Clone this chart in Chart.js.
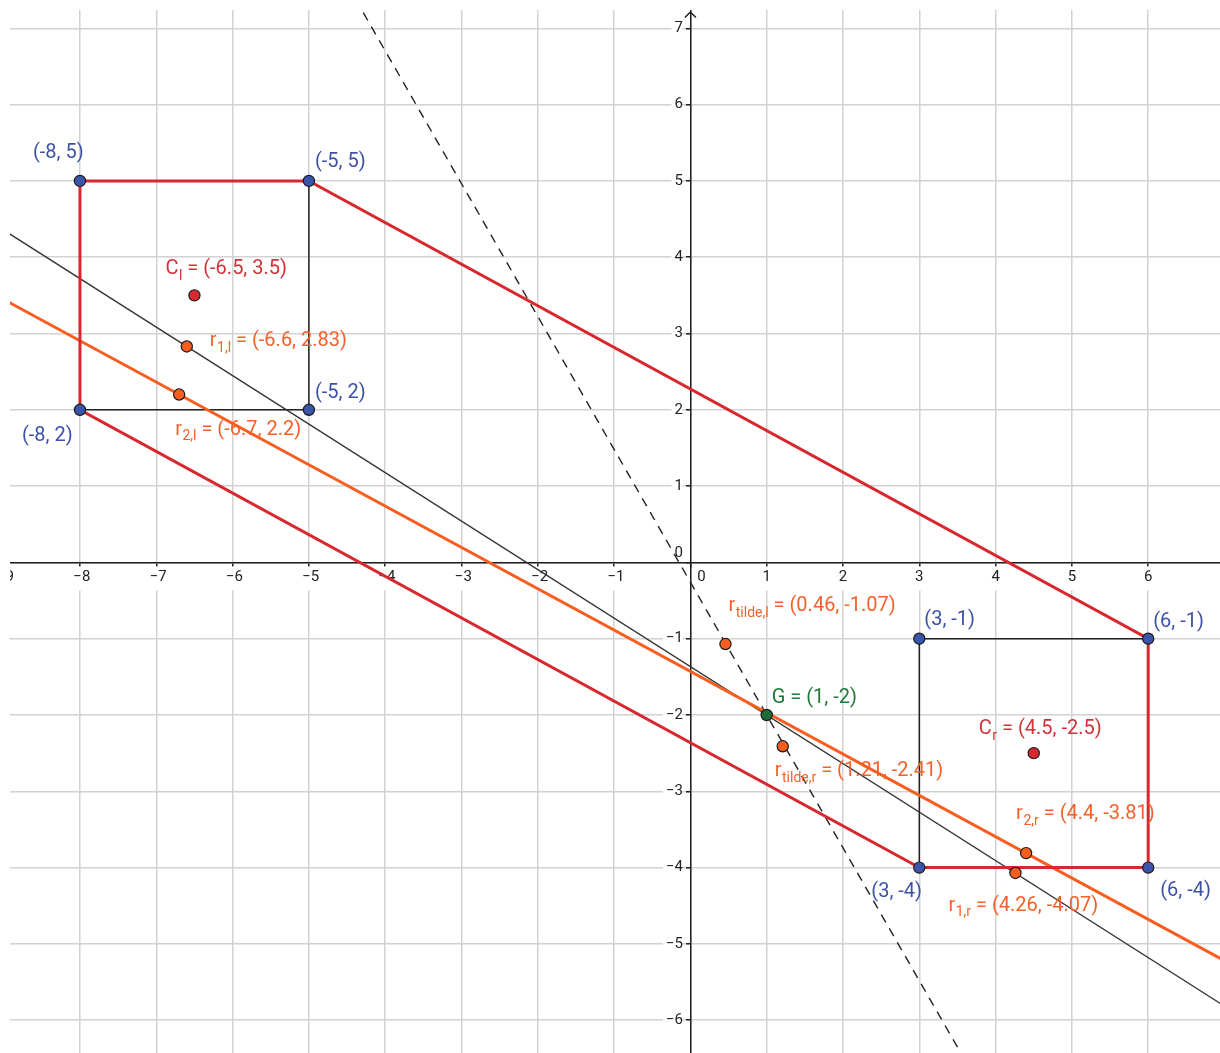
<!DOCTYPE html>
<html>
<head>
<meta charset="utf-8">
<script src="https://cdn.jsdelivr.net/npm/chart.js@4.4.1/dist/chart.umd.min.js"></script>
<style>
html,body{margin:0;padding:0;background:#fff}
</style>
</head>
<body>
<canvas id="c" width="1220" height="1053"></canvas>
<script>
// visible window of the view
const xMin=-8.917, xMax=6.941, yMin=-6.43, yMax=7.24;
const xTicks=[-9,-8,-7,-6,-5,-4,-3,-2,-1,0,1,2,3,4,5,6];
const yTicks=[-6,-5,-4,-3,-2,-1,0,1,2,3,4,5,6,7];

// segments and lines
const hull=[[-8,5],[-5,5],[6,-1],[6,-4],[3,-4],[-8,2],[-8,5]];
const boxL=[[-8,2],[-5,2],[-5,5]];
const boxR=[[6,-1],[3,-1],[3,-4]];
const lineR1=[[-9.5,4.673],[7.5,-6.132]];
const lineR2=[[-9.5,3.717],[7.5,-5.492]];
const lineDash=[[-4.6,7.75],[3.8,-6.875]];

// points
const corners=[[-8,5],[-5,5],[-5,2],[-8,2],[3,-1],[6,-1],[3,-4],[6,-4]];
const centers=[[-6.5,3.5],[4.5,-2.5]];
const centerNames=['C','C'];
const centerSubs=['l','r'];
const rPts=[[-6.6,2.83],[-6.7,2.2],[0.46,-1.07],[1.21,-2.41],[4.4,-3.81],[4.26,-4.07]];
const rNames=['r','r','r','r','r','r'];
const rSubs=['1,l','2,l','tilde,l','tilde,r','2,r','1,r'];
const gPt=[[1,-2]];
const gNames=['G'];
const gSubs=[''];

// label offsets (px from point to label left / middle)
const cornerOff=[[-47,-28],[6,-19],[6,-17],[-58,26],[5,-19],[5,-17],[-48,24],[12,23]];
const centerOff=[[-29,-26],[-55,-24]];
const rOff=[[23,-5],[-4,35],[3,-38],[-8,25],[-10,-39],[-67,33]];
const gOff=[[5,-17]];

const BLUE='#3a55aa', RED='#d8282f', ORANGE='#f75e20', GREEN='#1c6a36';
const BLUE_T='#3d52a6', RED_T='#d33039', ORANGE_T='#f4612a', GREEN_T='#1f7a3a';

const xy=a=>a.map(p=>({x:p[0],y:p[1]}));

function pts(data,color){
return {data:xy(data),showLine:false,pointRadius:5.6,pointHoverRadius:5.6,
pointBackgroundColor:color,pointBorderColor:'#1b1b1b',pointBorderWidth:1.2};
}
function seg(data,color,w,dash){
return {data:xy(data),showLine:true,pointRadius:0,pointHoverRadius:0,
borderColor:color,borderWidth:w,borderDash:dash||[],fill:false,tension:0};
}

const labelGroups=[
{pts:corners,off:cornerOff,color:BLUE_T},
{pts:centers,off:centerOff,color:RED_T,names:centerNames,subs:centerSubs},
{pts:rPts,off:rOff,color:ORANGE_T,names:rNames,subs:rSubs},
{pts:gPt,off:gOff,color:GREEN_T,names:gNames,subs:gSubs}
];

const clipArea={id:'clipArea',
beforeDraw(ch){
const a=ch.chartArea,c=ch.ctx;
c.save();c.beginPath();c.rect(a.left,a.top,a.right-a.left,a.bottom-a.top);c.clip();
},
afterDraw(ch){ch.ctx.restore();}
};

const ptLabels={id:'ptLabels',
afterDatasetsDraw(ch){
const c=ch.ctx,sx=ch.scales.x,sy=ch.scales.y;
const main='20px Roboto',small='14px Roboto';
c.save();
c.textBaseline='middle';c.textAlign='left';
labelGroups.forEach(g=>{
g.pts.forEach((p,i)=>{
let x=sx.getPixelForValue(p[0])+g.off[i][0];
let y=sy.getPixelForValue(p[1])+g.off[i][1];
let coord='('+p[0]+', '+p[1]+')';
c.fillStyle=g.color;
c.font=main;
if(g.names){
c.fillText(g.names[i],x,y);
x+=c.measureText(g.names[i]).width;
if(g.subs[i]){
c.font=small;
c.fillText(g.subs[i],x+0.5,y+7);
x+=c.measureText(g.subs[i]).width+0.5;
c.font=main;
}
c.fillText(' = '+coord,x,y);
}else{
c.fillText(coord,x,y);
}
});
});
// arrow at the top of the y axis
let x0=sx.getPixelForValue(0),t=ch.chartArea.top;
c.strokeStyle='#1e1e1e';c.lineWidth=1.5;
c.beginPath();c.moveTo(x0-5.5,t+7.5);c.lineTo(x0,t+2);c.lineTo(x0+5.5,t+7.5);c.stroke();
c.restore();
}
};

const tickFont={family:'Roboto',size:15};
const minus=v=>v<0?' \u2212'+(-v):String(v);

new Chart(document.getElementById('c'),{
type:'scatter',
data:{datasets:[
pts(gPt,GREEN),
pts(rPts,ORANGE),
pts(centers,RED),
pts(corners,BLUE),
seg(hull,RED,3),
seg(lineR2,ORANGE,3),
seg(lineR1,'#333',1.3),
seg(boxL,'#222',1.5),
seg(boxR,'#222',1.5),
seg(lineDash,'#222',1.4,[9,7])
]},
options:{
responsive:false,animation:false,
layout:{autoPadding:false,padding:{left:10,top:10,right:0,bottom:0}},
plugins:{legend:{display:false},tooltip:{enabled:false}},
events:[],
scales:{
x:{type:'linear',min:xMin,max:xMax,position:{y:0},
afterBuildTicks(s){s.ticks=xTicks.map(v=>({value:v}));},
afterFit(s){s.paddingLeft=0;s.paddingRight=0;},
grid:{color:'#d2d2d2',lineWidth:1.5,drawTicks:true,tickLength:4,tickColor:'#222',tickWidth:1.5},
border:{display:true,color:'#1e1e1e',width:1.5},
ticks:{autoSkip:false,maxRotation:0,padding:2,font:tickFont,color:'#222',
showLabelBackdrop:true,
backdropColor:c=>(c.tick&&c.tick.value===0)?'rgba(255,255,255,0)':'#fff',
backdropPadding:{left:2,right:2,top:2,bottom:4},
callback:v=>v===0?'      0':minus(v)}
},
y:{type:'linear',min:yMin,max:yMax,position:{x:0},
afterBuildTicks(s){s.ticks=yTicks.map(v=>({value:v}));},
afterFit(s){s.paddingTop=0;s.paddingBottom=0;},
grid:{color:'#d2d2d2',lineWidth:1.5,drawTicks:true,tickLength:4,tickColor:'#222',tickWidth:1.5},
border:{display:true,color:'#1e1e1e',width:1.5},
ticks:{autoSkip:false,padding:4,font:tickFont,color:'#222',
showLabelBackdrop:true,
backdropColor:c=>(c.tick&&c.tick.value===0)?'rgba(255,255,255,0)':'#fff',
backdropPadding:{left:3,right:-8,top:2,bottom:2},
callback:v=>v===0?['0  ','']:(v<0?'\u2212'+(-v):String(v))+'  '}
}
}
},
plugins:[clipArea,ptLabels]
});
</script>
</body>
</html>
